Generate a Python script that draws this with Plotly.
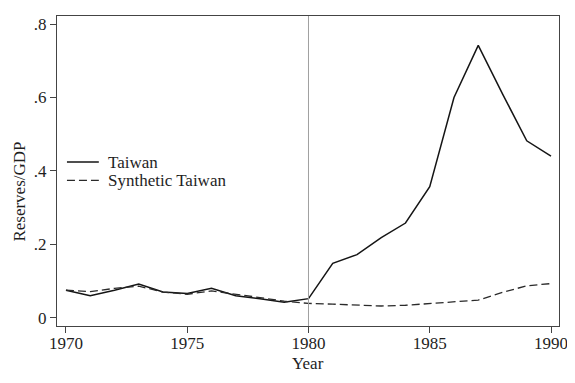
import plotly.graph_objects as go

years = list(range(1970, 1991))
taiwan = [0.075, 0.060, 0.075, 0.092, 0.070, 0.066, 0.080, 0.060, 0.052, 0.042, 0.052,
          0.148, 0.172, 0.218, 0.258, 0.357, 0.600, 0.742, 0.610, 0.482, 0.440]
synthetic = [0.075, 0.071, 0.080, 0.086, 0.070, 0.064, 0.073, 0.065, 0.055, 0.045, 0.039,
             0.037, 0.035, 0.032, 0.034, 0.038, 0.043, 0.048, 0.069, 0.087, 0.093]
series_names = ["Taiwan", "Synthetic Taiwan"]
x_ticks = [1970, 1975, 1980, 1985, 1990]
y_ticks = [0, 0.2, 0.4, 0.6, 0.8]
y_ticklabels = ["0", ".2", ".4", ".6", ".8"]
treatment_year = 1980

font = "Liberation Serif"
fsize = 17
col = "#1e1e1e"

# page body has an 8px default margin; plot area on screen: x 57..561, y 15..326
L, R, T, B = 57, 561, 15, 326
PW, PH = R - L, B - T
def px(sx):
    return (sx - L) / PW
def py(sy):
    return (B - sy) / PH

styles = [dict(color="#151515", width=1.5), dict(color="#2a2a2a", width=1.3, dash="8px,4px")]

fig = go.Figure()
for name, vals, st in zip(series_names, [taiwan, synthetic], styles):
    fig.add_trace(go.Scatter(x=years, y=vals, mode="lines", name=name, line=st,
                             showlegend=False))
fig.add_shape(type="line", x0=treatment_year, x1=treatment_year, y0=0, y1=1,
              xref="x", yref="paper", line=dict(color="#a0a0a0", width=1))

annotations = []
leg_rows = [161.5, 180]
for name, st, sy in zip(series_names, styles, leg_rows):
    fig.add_shape(type="line", xref="paper", yref="paper", x0=px(67), x1=px(99),
                  y0=py(sy), y1=py(sy), line=st)
    annotations.append(dict(text=name, xref="paper", yref="paper", x=px(106), y=py(sy),
                            xanchor="left", yanchor="middle", showarrow=False,
                            font=dict(family=font, size=fsize, color=col)))
annotations.append(dict(text="Reserves/GDP", textangle=-90, xref="paper", yref="paper",
                        x=px(19), y=py(191), xanchor="center", yanchor="middle",
                        showarrow=False, font=dict(family=font, size=fsize, color=col)))
annotations.append(dict(text="Year", xref="paper", yref="paper",
                        x=px(309), y=py(364), xanchor="center", yanchor="middle",
                        showarrow=False, font=dict(family=font, size=fsize, color=col)))

fig.update_layout(
    width=567, height=375,
    margin=dict(l=L - 8, r=567 - (R - 8), t=T - 8, b=375 - (B - 8)),
    paper_bgcolor="white", plot_bgcolor="white",
    font=dict(family=font, size=fsize, color=col),
    showlegend=False,
    xaxis=dict(range=[1969.63, 1990.33], tickvals=x_ticks, ticktext=[str(v) for v in x_ticks],
               showgrid=False, zeroline=False, showline=True, linecolor="#444444", linewidth=1,
               mirror=True, ticks="outside", ticklen=6, tickcolor="#444444",
               ticklabelstandoff=-4),
    yaxis=dict(range=[-0.0225, 0.822], tickvals=y_ticks, ticktext=y_ticklabels,
               showgrid=False, zeroline=False, showline=True, linecolor="#444444", linewidth=1,
               mirror=True, ticks="outside", ticklen=6, tickcolor="#444444"),
    annotations=annotations,
)
fig.write_html("out.html")
